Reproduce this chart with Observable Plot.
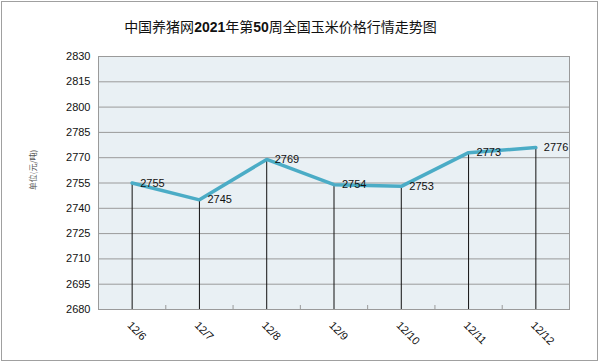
<!DOCTYPE html>
<html><head><meta charset="utf-8">
<script src="https://cdn.jsdelivr.net/npm/d3@7"></script>
<script src="https://cdn.jsdelivr.net/npm/@observablehq/plot@0.6"></script>
<style>
body{margin:0;background:#fff;}
#wrap{position:relative;width:600px;height:363px;overflow:hidden;background:#fff;}
#chart{position:absolute;left:0;top:0;}
#border{position:absolute;left:1px;top:1px;width:595px;height:358px;border:1px solid #a0a0a0;pointer-events:none;}
#title{position:absolute;left:0;width:561px;top:16px;text-align:center;font:400 14px "Noto Sans CJK SC",sans-serif;color:#111;white-space:nowrap;}
#title b{font-family:"Liberation Sans",sans-serif;font-weight:bold;}
#ylabel{position:absolute;left:32px;top:170px;transform:translate(-50%,-50%) rotate(-90deg);font:8px "Noto Sans CJK SC",sans-serif;color:#555;white-space:nowrap;}
</style>
</head><body>
<div id="wrap">
  <div id="chart"></div>
  <div id="title">中国养猪网<b>2021</b>年第<b>50</b>周全国玉米价格行情走势图</div>
  <div id="ylabel">单位(元/吨)</div>
  <div id="border"></div>
</div>
<script>
const dates = ["12/6","12/7","12/8","12/9","12/10","12/11","12/12"];
const prices = [2755,2745,2769,2754,2753,2773,2776];
const yTicks = [2680,2695,2710,2725,2740,2755,2770,2785,2800,2815,2830];

const data = dates.map((d,i)=>({i, date:d, v:prices[i]}));
const idx = dates.map((d,i)=>i);
const bounds = dates.slice(0,-1).map((d,i)=>i+0.5);

const chart = Plot.plot({
  width:600, height:363,
  marginLeft:98, marginRight:31, marginTop:56, marginBottom:54,
  style:{background:"transparent", fontFamily:"'Liberation Sans',sans-serif", fontSize:"11px", color:"#111"},
  x:{domain:[-0.5, dates.length-0.5], label:null},
  y:{domain:[yTicks[0], yTicks[yTicks.length-1]], label:null},
  marks:[
    Plot.frame({fill:"#e9f0f4", stroke:null}),
    Plot.gridY(yTicks, {stroke:"#9a9a9a", strokeOpacity:1, strokeWidth:1}),
    Plot.frame({stroke:"#9a9a9a", fill:null}),
    Plot.axisX(bounds, {tickSize:4, dy:-4, text:null, stroke:"#9a9a9a", label:null}),
    Plot.ruleX(data, {x:"i", y1:"v", y2:d=>yTicks[0], stroke:"#111", strokeWidth:1}),
    Plot.line(data, {x:"i", y:"v", stroke:"#4bacc6", strokeWidth:3.5, strokeLinejoin:"miter"}),
    Plot.text(data, {x:"i", y:"v", text:d=>String(d.v), dx:8, textAnchor:"start", fontSize:11, fill:"#111"}),
    Plot.axisY(yTicks, {tickSize:0, tickPadding:8, fontSize:11, label:null, tickFormat:d=>String(d)}),
    Plot.axisX(idx, {tickSize:0, tickPadding:14, dx:-3, tickRotate:45, fontSize:11, label:null, tickFormat:i=>dates[i]})
  ]
});
document.getElementById("chart").appendChild(chart);
</script>
</body></html>
